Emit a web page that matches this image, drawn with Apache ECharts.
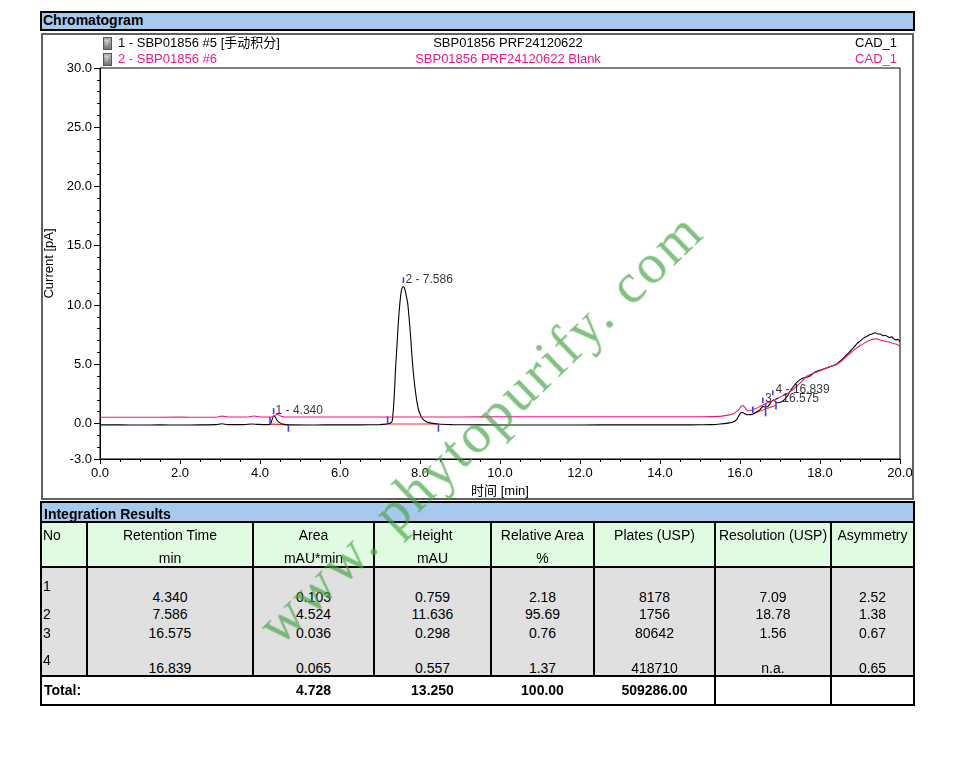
<!DOCTYPE html>
<html>
<head>
<meta charset="utf-8">
<script src="https://cdn.jsdelivr.net/npm/echarts@6.0.0/dist/echarts.min.js"></script>
<style>
  body { margin:0; background:#fff; font-family:"Liberation Sans", Arial, "Noto Sans CJK SC", sans-serif; }
  #chart { position:absolute; left:0; top:0; width:953px; height:757px; }
  .abs { position:absolute; white-space:nowrap; }
  .ln { position:absolute; background:#000; }
  #wm { position:absolute; left:480px; top:427px; transform:translate(-50%,-50%) rotate(-44deg);
        font-family:"Liberation Serif","DejaVu Serif",serif; font-size:56px; letter-spacing:3px;
        color:rgba(70,165,70,0.68); white-space:nowrap; pointer-events:none; z-index:20; }
</style>
</head>
<body>
<div id="chart"></div>
<div id="over"></div>
<div id="wm">www. phytopurify. com</div>
<script>
// 样品 (黑) 与空白 (粉) 色谱曲线, [时间 min, 电流 pA]
var sampleTrace = [
  [0.0,-0.12],[0.5,-0.12],[1.0,-0.13],[1.5,-0.12],[2.0,-0.13],[2.5,-0.12],[2.9,-0.1],[3.05,-0.03],[3.2,-0.1],
  [3.6,-0.1],[3.8,-0.04],[3.95,-0.08],[4.2,-0.1],[4.26,-0.05],[4.3,0.3],[4.34,0.64],[4.38,0.55],[4.43,0.25],
  [4.5,0.05],[4.6,-0.08],[4.8,-0.12],[5.2,-0.13],[5.6,-0.12],[6.0,-0.12],[6.5,-0.12],[7.0,-0.1],[7.15,-0.06],
  [7.25,0.02],[7.3,0.15],[7.33,1.0],[7.36,2.6],[7.39,4.7],[7.43,6.9],[7.46,8.6],[7.49,9.9],[7.52,10.9],
  [7.55,11.4],[7.586,11.55],[7.62,11.35],[7.65,10.9],[7.69,10.2],[7.72,9.2],[7.76,7.6],[7.79,6.1],[7.83,4.4],
  [7.875,3.0],[7.92,1.9],[7.96,1.2],[8.02,0.65],[8.08,0.34],[8.16,0.15],[8.25,0.05],[8.45,-0.05],[8.8,-0.1],
  [9.5,-0.12],[10.5,-0.13],[11.5,-0.13],[12.5,-0.12],[13.5,-0.12],[14.5,-0.12],[15.0,-0.11],[15.3,-0.1],
  [15.5,-0.05],[15.7,0.03],[15.83,0.12],[15.92,0.35],[15.98,0.7],[16.03,0.93],[16.08,0.9],[16.14,0.78],
  [16.2,0.74],[16.32,0.78],[16.42,0.98],[16.5,1.16],[16.575,1.44],[16.63,1.38],[16.69,1.42],[16.76,1.72],
  [16.839,2.0],[16.9,1.8],[16.96,1.75],[17.08,1.92],[17.18,2.3],[17.25,2.7],[17.33,3.1],[17.42,3.47],
  [17.5,3.7],[17.58,3.84],[17.67,3.9],[17.75,4.0],[17.84,4.25],[17.92,4.4],[18.05,4.55],[18.17,4.69],
  [18.3,4.85],[18.42,5.03],[18.55,5.4],[18.67,5.82],[18.8,6.25],[18.92,6.72],[19.0,6.95],[19.08,7.18],
  [19.17,7.35],[19.25,7.5],[19.3,7.55],[19.38,7.65],[19.44,7.55],[19.5,7.55],[19.58,7.4],[19.63,7.45],
  [19.67,7.37],[19.75,7.25],[19.8,7.32],[19.83,7.18],[19.9,7.05],[19.95,7.1],[20.0,6.9]
];
var blankTrace = [
  [0,0.52],[1,0.52],[2,0.53],[2.5,0.52],[2.95,0.55],[3.05,0.62],[3.2,0.55],[3.7,0.55],[3.85,0.63],[4.0,0.55],
  [4.3,0.55],[4.38,0.7],[4.43,0.78],[4.5,0.65],[4.6,0.55],[5,0.55],[6,0.55],[7,0.55],[8,0.55],[9,0.55],
  [10,0.56],[11,0.56],[12,0.56],[13,0.56],[14,0.56],[15,0.57],[15.5,0.6],[15.7,0.7],[15.85,0.85],[15.95,1.1],
  [16.02,1.4],[16.07,1.53],[16.12,1.35],[16.2,1.07],[16.28,1.1],[16.38,1.24],[16.48,1.4],[16.58,1.58],
  [16.72,1.78],[16.88,2.0],[17.02,2.25],[17.17,2.48],[17.3,2.8],[17.42,3.14],[17.55,3.6],[17.67,3.98],
  [17.8,4.2],[17.92,4.35],[18.05,4.52],[18.17,4.69],[18.3,4.85],[18.42,4.97],[18.55,5.3],[18.67,5.68],
  [18.8,6.05],[18.92,6.38],[19.02,6.6],[19.12,6.8],[19.22,6.98],[19.29,7.09],[19.36,7.12],[19.42,7.14],
  [19.5,7.05],[19.58,7.0],[19.67,6.89],[19.75,6.85],[19.83,6.75],[19.9,6.7],[19.96,6.6],[20,6.55]
];
// 积分基线 (红)
var baselines = [[4.25,-0.06],[4.71,-0.1],null,[7.19,-0.04],[8.46,-0.05],null,[16.32,0.82],[16.9,1.53]];
// 峰起止/顶点标记 (蓝): [时间, 下端, 上端]
var peakMarks = [
  [4.25,-0.05,0.55],[4.34,0.8,1.3],[4.71,-0.7,-0.15],
  [7.19,0.0,0.6],[7.586,11.85,12.35],[8.46,-0.7,-0.1],
  [16.32,0.88,1.44],[16.57,1.72,2.2],[16.64,0.6,1.72],[16.82,2.37,2.8],[16.9,1.17,1.86]
];
var peakNo = [1, 2, 3, 4];
var peakRT = ['4.340', '7.586', '16.575', '16.839'];
var peakLabelAt = [[4.34,1.1],[7.586,12.1],[16.575,2.1],[16.839,2.85]];
var yLabelVals = [-3, 0, 5, 10, 15, 20, 25, 30];

// 积分结果表
var colHead1 = ['No', 'Retention Time', 'Area', 'Height', 'Relative Area', 'Plates (USP)', 'Resolution (USP)', 'Asymmetry'];
var colHead2 = ['', 'min', 'mAU*min', 'mAU', '%', '', '', ''];
var area = ['0.103', '4.524', '0.036', '0.065'];
var height = ['0.759', '11.636', '0.298', '0.557'];
var relArea = ['2.18', '95.69', '0.76', '1.37'];
var plates = ['8178', '1756', '80642', '418710'];
var resolution = ['7.09', '18.78', '1.56', 'n.a.'];
var asymmetry = ['2.52', '1.38', '0.67', '0.65'];
var totals = ['Total:', '', '4.728', '13.250', '100.00', '509286.00', '', ''];

var PINK = '#f2167f';

var myChart = echarts.init(document.getElementById('chart'));
myChart.setOption({
    animation: false,
    grid: { left: 100, top: 68, width: 800, height: 391, show: true, borderColor: '#000', borderWidth: 1 },
    xAxis: {
        type: 'value', min: 0, max: 20, interval: 2,
        name: '时间 [min]', nameLocation: 'middle', nameGap: 26,
        nameTextStyle: { color: '#000', fontSize: 13, fontFamily: 'Liberation Sans, Noto Sans CJK SC' },
        axisLine: { onZero: false, lineStyle: { color: '#000' } },
        axisTick: { length: 5, lineStyle: { color: '#000' } },
        minorTick: { show: true, splitNumber: 4, length: 3, lineStyle: { color: '#000' } },
        splitLine: { show: false },
        axisLabel: { color: '#000', fontSize: 13, margin: 8, fontFamily: 'Liberation Sans',
            formatter: function (v) { return v.toFixed(1); } }
    },
    yAxis: [{
        type: 'value', min: -3, max: 30, interval: 1,
        name: 'Current [pA]', nameLocation: 'middle', nameGap: 43, nameRotate: 90,
        nameTextStyle: { color: '#000', fontSize: 13, fontFamily: 'Liberation Sans' },
        axisLine: { show: true, lineStyle: { color: '#000' } },
        axisTick: { show: true, length: 3, lineStyle: { color: '#000' } },
        splitLine: { show: false },
        axisLabel: { color: '#000', fontSize: 13, margin: 8, fontFamily: 'Liberation Sans',
            customValues: yLabelVals,
            formatter: function (v) { return v.toFixed(1); } }
    }, {
        type: 'value', min: -3, max: 30, position: 'left',
        axisLine: { show: false },
        axisTick: { show: true, length: 6, customValues: yLabelVals, lineStyle: { color: '#000' } },
        axisLabel: { show: false },
        splitLine: { show: false }
    }],
    series: [{
        type: 'line', data: sampleTrace, showSymbol: false, smooth: 0.2,
        lineStyle: { color: '#000', width: 1.1 }, z: 3
    }, {
        type: 'line', data: blankTrace, showSymbol: false, smooth: 0.2,
        lineStyle: { color: PINK, width: 1.1 }, z: 4
    }, {
        type: 'line', data: baselines, showSymbol: false, connectNulls: false,
        lineStyle: { color: '#ff2a2a', width: 1.1 }, z: 2
    }, {
        type: 'custom', data: peakMarks, z: 5,
        encode: { x: 0, y: [1, 2] },
        renderItem: function (params, api) {
            var p1 = api.coord([api.value(0), api.value(1)]);
            var p2 = api.coord([api.value(0), api.value(2)]);
            return { type: 'line', shape: { x1: p1[0], y1: p1[1], x2: p2[0], y2: p2[1] },
                style: { stroke: '#3c3cff', lineWidth: 1.6 } };
        }
    }, {
        type: 'scatter', symbolSize: 0, z: 6,
        data: peakLabelAt.map(function (p, i) { return { value: p, name: peakNo[i] + ' - ' + peakRT[i] }; }),
        label: { show: true, position: 'right', distance: 2, color: '#000', fontSize: 12,
            fontFamily: 'Liberation Sans', formatter: '{b}' }
    }]
});

// ---- 页面框/表格 (HTML) ----
var over = document.getElementById('over');
function box(x, y, w, h, css) {
    var d = document.createElement('div');
    d.className = 'abs';
    d.style.left = x + 'px'; d.style.top = y + 'px';
    d.style.width = w + 'px'; d.style.height = h + 'px';
    if (css) d.style.cssText += css;
    over.appendChild(d);
    return d;
}
function txt(x, y, s, align, css) {
    var d = document.createElement('div');
    d.className = 'abs';
    d.textContent = s;
    d.style.top = (y - 9) + 'px';
    d.style.lineHeight = '18px';
    d.style.fontSize = '14px';
    if (align === 'center') { d.style.left = x + 'px'; d.style.transform = 'translateX(-50%)'; }
    else if (align === 'right') { d.style.right = (953 - x) + 'px'; }
    else { d.style.left = x + 'px'; }
    if (css) d.style.cssText += css;
    over.appendChild(d);
    return d;
}

// Chromatogram 标题栏
box(40, 11, 871, 16, 'background:#a8c9ee;border:2px solid #000;');
txt(43, 20, 'Chromatogram', 'left', 'font-weight:bold;font-size:14px;');
// 图框
box(41, 33, 869, 463, 'border:2px solid #606060;');
// 图例行
[[43, '#000', '1 - SBP01856 #5 [手动积分]', 'SBP01856 PRF24120622'],
 [59, PINK, '2 - SBP01856 #6', 'SBP01856 PRF24120622 Blank']].forEach(function (r) {
    box(103, r[0] - 6, 7, 11, 'background:linear-gradient(#bbb,#777);border:1px solid #555;');
    txt(106.5, r[0], '?', 'center', 'font-size:8px;color:#fff;');
    txt(118, r[0], r[2], 'left', 'font-size:13px;color:' + r[1] + ';');
    txt(508, r[0], r[3], 'center', 'font-size:13px;color:' + r[1] + ';');
    txt(897, r[0], 'CAD_1', 'right', 'font-size:13px;color:' + r[1] + ';');
});

// Integration Results
var cols = [41, 87, 253, 374, 491, 594, 715, 831, 914];
box(41, 503, 873, 19, 'background:#a8c9ee;');
box(41, 523, 873, 43, 'background:#e1fbe1;');
box(41, 567, 873, 109, 'background:#e0e0e0;');
txt(44, 514, 'Integration Results', 'left', 'font-weight:bold;font-size:14px;');
// 横线
box(40, 501, 875, 2, 'background:#000;');
box(40, 521, 875, 2, 'background:#000;');
box(40, 566, 875, 2, 'background:#000;');
box(40, 675, 875, 2, 'background:#000;');
box(40, 704, 875, 2, 'background:#000;');
// 竖线
box(40, 501, 2, 205, 'background:#000;');
box(913, 501, 2, 205, 'background:#000;');
for (var c = 1; c < cols.length - 1; c++) {
    box(cols[c] - 1, 523, 2, 153, 'background:#000;');
}
box(cols[6] - 1, 676, 2, 29, 'background:#000;');
box(cols[7] - 1, 676, 2, 29, 'background:#000;');

function mid(c) { return (cols[c] + cols[c + 1]) / 2; }
colHead1.forEach(function (h, c) {
    if (c === 0) txt(43, 535, h, 'left');
    else txt(mid(c), 535, h, 'center');
    if (colHead2[c]) txt(mid(c), 558, colHead2[c], 'center');
});
var rowY = [597, 614, 633, 668];
var noY = [586, 614, 633, 660];
var cells = [peakRT, area, height, relArea, plates, resolution, asymmetry];
for (var r = 0; r < 4; r++) {
    txt(43, noY[r], String(peakNo[r]), 'left');
    cells.forEach(function (arr, k) { txt(mid(k + 1), rowY[r], arr[r], 'center'); });
}
totals.forEach(function (t, c) {
    if (!t) return;
    if (c === 0) txt(44, 690, t, 'left', 'font-weight:bold;');
    else txt(mid(c), 690, t, 'center', 'font-weight:bold;');
});
</script>
</body>
</html>
